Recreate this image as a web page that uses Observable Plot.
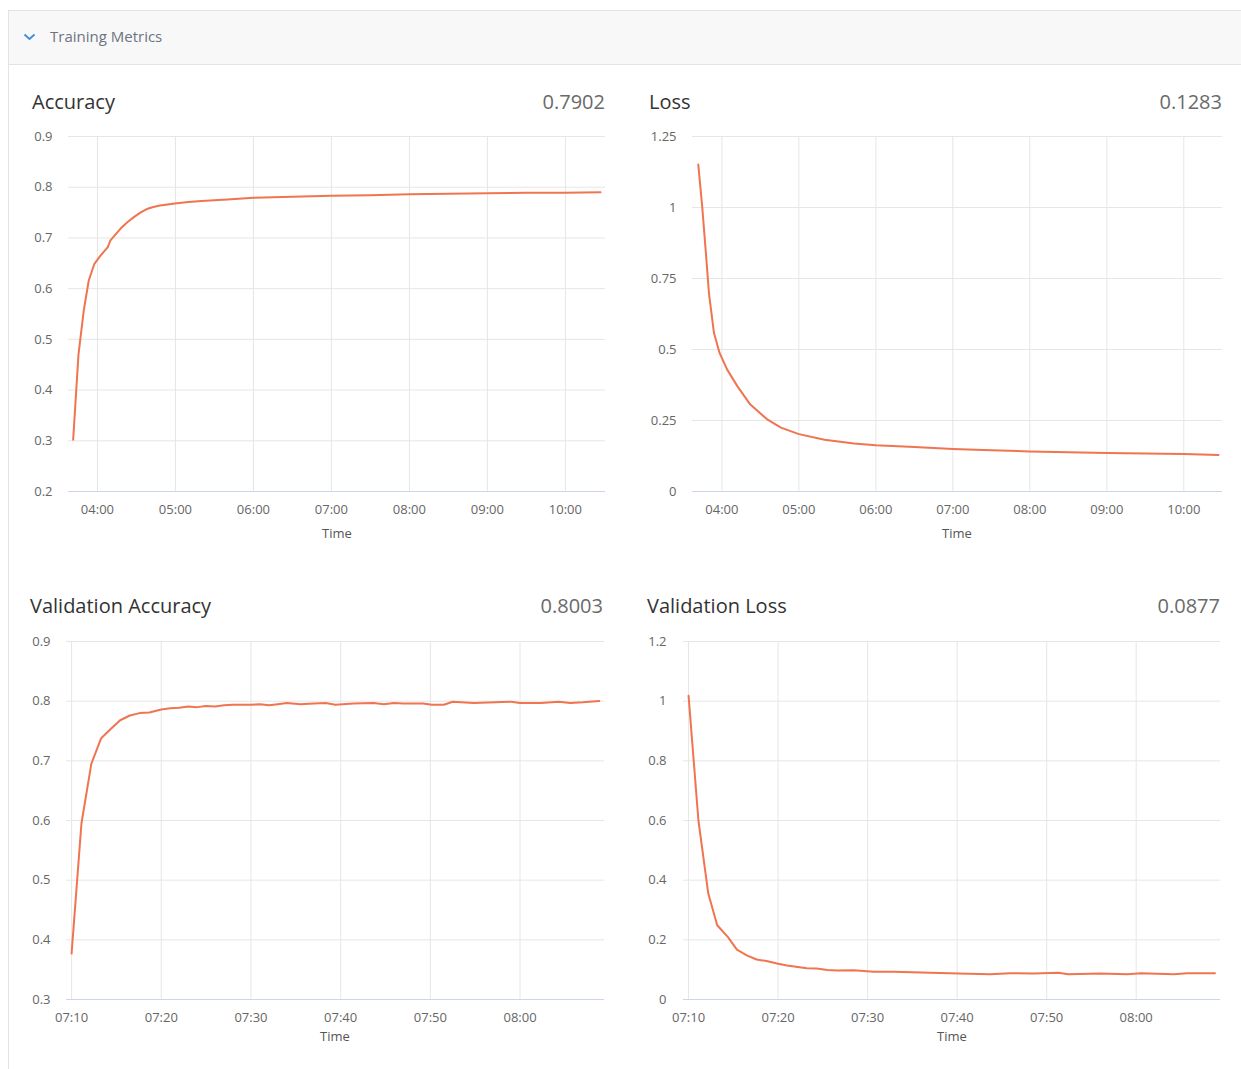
<!DOCTYPE html>
<html><head><meta charset="utf-8">
<script src="https://cdn.jsdelivr.net/npm/d3@7"></script>
<script src="https://cdn.jsdelivr.net/npm/@observablehq/plot@0.6"></script>
<style>
body{margin:0;background:#fff;font-family:"Open Sans",sans-serif;width:1241px;height:1069px;position:relative;overflow:hidden}
.abs{position:absolute}
.header{left:8px;top:10px;width:1240px;height:55px;background:#f8f8f8;border:1px solid #e3e3e3;box-sizing:border-box}
.vline{left:8px;top:64px;width:1px;height:1010px;background:#e3e3e3}
.htitle{left:50px;top:26px;font-size:15px;line-height:20px;color:#6c7480}
.title{font-size:20px;line-height:24px;color:#333;white-space:nowrap}
.value{font-size:20px;line-height:24px;color:#6a6a6a;text-align:right;white-space:nowrap}
.xlab{font-size:13px;line-height:18px;color:#555;text-align:center;width:100px}
svg{overflow:visible}
</style></head>
<body>
<div class="abs header"></div>
<div class="abs vline"></div>
<svg class="abs" style="left:23px;top:33px" width="13" height="8"><polyline points="1.5,1.5 6.5,6 11.5,1.5" fill="none" stroke="#3b8edb" stroke-width="1.8"/></svg>
<div class="abs htitle">Training Metrics</div>

<div class="abs title" style="left:32px;top:90px">Accuracy</div>
<div class="abs value" style="left:405px;width:200px;top:90px">0.7902</div>
<div class="abs title" style="left:649px;top:90px">Loss</div>
<div class="abs value" style="left:1022px;width:200px;top:90px">0.1283</div>
<div class="abs title" style="left:30px;top:594px">Validation Accuracy</div>
<div class="abs value" style="left:403px;width:200px;top:594px">0.8003</div>
<div class="abs title" style="left:647px;top:594px">Validation Loss</div>
<div class="abs value" style="left:1020px;width:200px;top:594px">0.0877</div>

<div class="abs xlab" style="left:287px;top:524px">Time</div>
<div class="abs xlab" style="left:907px;top:524px">Time</div>
<div class="abs xlab" style="left:285px;top:1027px">Time</div>
<div class="abs xlab" style="left:902px;top:1027px">Time</div>

<div id="c1" class="abs" style="left:20px;top:120px"></div>
<div id="c2" class="abs" style="left:640px;top:120px"></div>
<div id="c3" class="abs" style="left:18px;top:625px"></div>
<div id="c4" class="abs" style="left:636px;top:625px"></div>

<script>
// ---- Data ----
const accTime = ["03:41:20","03:45:25","03:49:30","03:53:20","03:57:40","04:02:20","04:08:00","04:10:00","04:17:40","04:23:00","04:28:00","04:33:00","04:38:00","04:43:00","04:48:00","04:54:00","04:59:30","05:10","05:20","05:40","06:00","06:30","07:00","07:30","08:00","08:30","09:00","09:30","10:00","10:27"];
const accValue = [0.302,0.470,0.557,0.616,0.649,0.665,0.682,0.695,0.718,0.731,0.741,0.750,0.757,0.761,0.764,0.766,0.768,0.771,0.773,0.776,0.779,0.781,0.783,0.784,0.786,0.787,0.788,0.789,0.789,0.7902];

const lossTime = ["03:41:35","03:44:40","03:47:20","03:49:55","03:53:50","03:58:10","04:04","04:12","04:22","04:35","04:46","05:00","05:20","05:43","06:00","06:30","07:00","07:30","08:00","08:30","09:00","09:30","10:00","10:27"];
const lossValue = [1.151,1.002,0.850,0.698,0.558,0.488,0.430,0.371,0.307,0.255,0.225,0.202,0.182,0.169,0.163,0.157,0.150,0.145,0.141,0.138,0.136,0.134,0.132,0.1283];

const valAccTime = ["07:10:00","07:11:06","07:12:12","07:13:18","07:14:20","07:15:25","07:16:30","07:17:35","07:18:40","07:20:00","07:21:00","07:22:00","07:23:00","07:24:00","07:25:00","07:26:00","07:27:00","07:28:00","07:29:00","07:30:00","07:31:00","07:32:00","07:33:00","07:34:00","07:35:30","07:37:00","07:38:20","07:39:25","07:41:25","07:43:40","07:44:50","07:45:55","07:47:00","07:49:10","07:50:10","07:51:30","07:52:30","07:54:50","07:59:00","08:00:00","08:02:20","08:04:20","08:05:35","08:07:00","08:08:50"];
const valAccValue = [0.377,0.595,0.695,0.738,0.753,0.768,0.776,0.780,0.781,0.786,0.788,0.789,0.791,0.790,0.792,0.791,0.793,0.794,0.794,0.794,0.795,0.793,0.795,0.797,0.795,0.796,0.797,0.794,0.796,0.797,0.795,0.797,0.796,0.796,0.794,0.794,0.799,0.797,0.799,0.797,0.797,0.799,0.797,0.798,0.8003];

const valLossTime = ["07:10:00","07:11:06","07:12:12","07:13:12","07:14:24","07:15:24","07:16:30","07:17:36","07:18:42","07:20:00","07:21:00","07:22:00","07:23:12","07:24:18","07:25:30","07:26:36","07:28:24","07:30:42","07:32:54","07:35:00","07:37:00","07:40:12","07:43:42","07:45:54","07:48:30","07:51:18","07:52:24","07:56:00","07:59:00","08:00:30","08:04:12","08:05:42","08:08:48"];
const valLossValue = [1.018,0.600,0.355,0.249,0.209,0.167,0.148,0.134,0.129,0.120,0.114,0.110,0.105,0.104,0.099,0.097,0.098,0.093,0.093,0.091,0.090,0.087,0.085,0.088,0.087,0.090,0.085,0.087,0.085,0.088,0.085,0.088,0.0877];

const trainTicks = ["04:00","05:00","06:00","07:00","08:00","09:00","10:00"];
const valTicks = ["07:10","07:20","07:30","07:40","07:50","08:00"];
const accYTicks = [0.2,0.3,0.4,0.5,0.6,0.7,0.8,0.9];
const lossYTicks = [0,0.25,0.5,0.75,1,1.25];
const valAccYTicks = [0.3,0.4,0.5,0.6,0.7,0.8,0.9];
const valLossYTicks = [0,0.2,0.4,0.6,0.8,1,1.2];

// ---- Helpers ----
const parseT = s => d3.utcParse("%H:%M:%S")(s.length === 5 ? s + ":00" : s);
const LINE = "#f0744f";

function chart(id, times, values, xDomain, xTicks, yTicks, opts) {
  const data = times.map((t, i) => ({t: parseT(t), v: values[i]}));
  const xt = xTicks.map(parseT);
  const yDomain = [yTicks[0], yTicks[yTicks.length - 1]];
  const p = Plot.plot({
    width: opts.width, height: opts.height,
    marginLeft: opts.ml, marginRight: opts.mr, marginTop: opts.mt, marginBottom: opts.mb,
    style: {fontFamily: "'Open Sans', sans-serif", fontSize: "13px", color: "#666", background: "transparent", overflow: "visible"},
    x: {type: "utc", domain: xDomain.map(parseT), ticks: xt, tickFormat: d3.utcFormat("%H:%M"), tickSize: 0, tickPadding: 13, label: null},
    y: {domain: yDomain, ticks: yTicks, tickFormat: d => String(d), tickSize: 0, tickPadding: opts.typ || 16, label: null},
    marks: [
      Plot.ruleY(yTicks, {stroke: "#e6e6e6", strokeWidth: 1}),
      Plot.ruleX(xt, {stroke: "#e6e6e6", strokeWidth: 1}),
      Plot.ruleY([yDomain[0]], {stroke: "#ccd6eb", strokeWidth: 1}),
      Plot.line(data, {x: "t", y: "v", stroke: LINE, strokeWidth: 2})
    ]
  });
  document.getElementById(id).appendChild(p);
}

chart("c1", accTime, accValue, ["03:37:45","10:30:50"], trainTicks, accYTicks,
  {width: 590, height: 430, ml: 48, mr: 5, mt: 16, mb: 59});
chart("c2", lossTime, lossValue, ["03:37:05","10:30:10"], trainTicks, lossYTicks,
  {width: 590, height: 430, ml: 52, mr: 8, mt: 16, mb: 59});
chart("c3", valAccTime, valAccValue, ["07:09:26","08:09:25"], valTicks, valAccYTicks,
  {width: 590, height: 433, ml: 48, mr: 4, mt: 16, mb: 59});
chart("c4", valLossTime, valLossValue, ["07:09:26","08:09:25"], valTicks, valLossYTicks,
  {width: 590, height: 433, ml: 47, mr: 6, mt: 16, mb: 59, typ: 17});
</script>
</body></html>
